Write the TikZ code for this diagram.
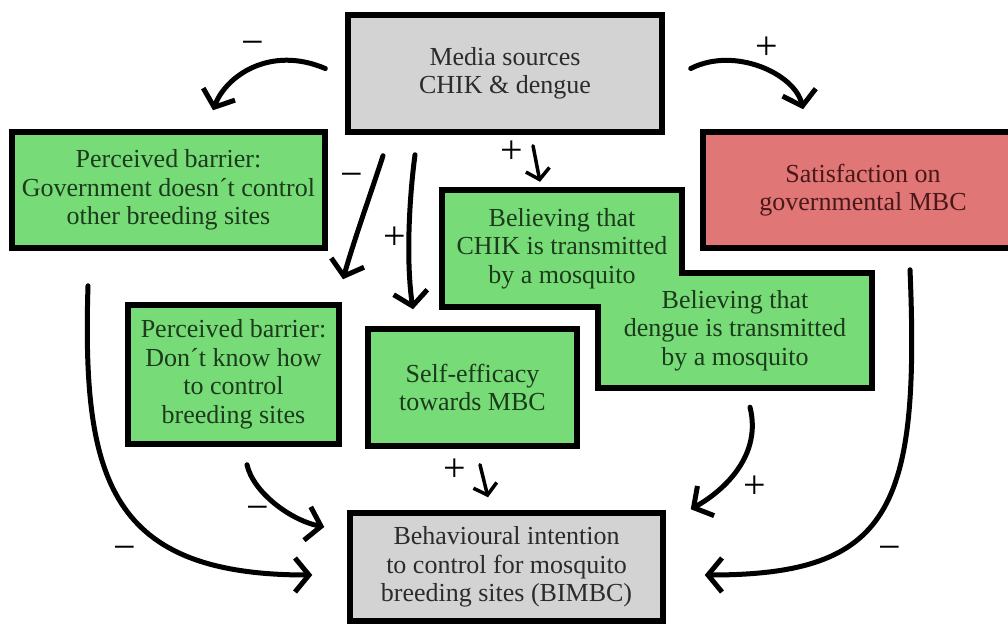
\documentclass[tikz,border=0pt]{standalone}
\usepackage{fontspec}
\setmainfont{Liberation Serif}
\usetikzlibrary{arrows.meta,calc,backgrounds}

\definecolor{boxgreen}{HTML}{77DC77}
\definecolor{boxred}{HTML}{E07676}
\definecolor{boxgrey}{HTML}{D3D3D3}
\definecolor{txtgreen}{HTML}{1C3A1C}
\definecolor{txtred}{HTML}{4A1818}
\definecolor{txtgrey}{HTML}{2B2B2B}

\tikzset{
  box/.style={draw=black, line width=5.5pt, align=center, inner sep=0pt,
    font=\fontsize{26}{28.5}\selectfont},
  greenbox/.style={box, fill=boxgreen, text=txtgreen},
  redbox/.style={box, fill=boxred, text=txtred},
  greybox/.style={box, fill=boxgrey, text=txtgrey},
  plaintext/.style={align=center, inner sep=0pt, text=txtgreen,
    font=\fontsize{26}{28.5}\selectfont},
  link/.style={line width=5pt, line cap=round,
    -{Straight Barb[length=14pt,width=34pt,line width=5pt]}},
  shortlink/.style={line width=3.5pt, line cap=round,
    -{Straight Barb[length=10pt,width=24pt,line width=3.5pt]}},
  sign/.style={font=\fontsize{40}{40}\selectfont, inner sep=0pt},
}

\begin{document}
\begin{tikzpicture}[x=1pt, y=-1pt]
\useasboundingbox (0,0) rectangle (1008,626);

% boxes
\node[greybox, minimum width=314pt, minimum height=117pt] (media) at (505,73.5)
  {Media sources\\CHIK \& dengue};
\node[greenbox, minimum width=313pt, minimum height=116pt] (gov) at (168.5,190)
  {Perceived barrier:\\Government doesn´t control\\other breeding sites};
\node[redbox, minimum width=320pt, minimum height=116pt] (sat) at (863,190)
  {Satisfaction on\\governmental MBC};
\node[greenbox, minimum width=211pt, minimum height=139pt] (knowhow) at (233.5,374.5)
  {Perceived barrier:\\Don´t know how\\to control\\breeding sites};
\node[greenbox, minimum width=209pt, minimum height=117pt] (self) at (472.5,387.5)
  {Self-efficacy\\towards MBC};
\node[greybox, minimum width=313pt, minimum height=108pt] (bimbc) at (506.5,567)
  {Behavioural intention\\to control for mosquito\\breeding sites (BIMBC)};

% the two overlapping belief boxes share one outline
\node[plaintext, minimum width=240pt, minimum height=117pt] (chik) at (562,248.5)
  {Believing that\\CHIK is transmitted\\by a mosquito};
\node[plaintext, minimum width=274pt, minimum height=115pt] (dengue) at (735,330.5)
  {Believing that\\dengue is transmitted\\by a mosquito};
\begin{scope}[on background layer]
  \fill[white] (0,0) rectangle (1008,626);
  \draw[line width=5.5pt, fill=boxgreen, line join=miter]
    (chik.north west) -- (chik.north east) -- (chik.north east |- dengue.north)
    -- (dengue.north east) -- (dengue.south east) -- (dengue.south west)
    -- (dengue.south west |- chik.south) -- (chik.south west) -- cycle;
\end{scope}

% influences from the media
\draw[link] ($(media.west)+(-20,-5)$) .. controls (270,45) and (226,76) .. ($(gov.north)+(44.5,-19)$);
\node[sign] (s1) at (253,48) {−};

\draw[link] ($(media.south)+(-122,21)$) .. controls (372,190) and (354,240) .. ($(knowhow.north)+(109.5,-23)$);
\node[sign] (s2) at (352,180) {−};

\draw[link] ($(media.south)+(-90,20)$) .. controls (409,200) and (406,262) .. ($(self.north)+(-59.5,-17)$);
\node[sign] (s3) at (395,238) {+};

\draw[shortlink] ($(media.south)+(28,11)$) -- ($(chik.north)+(-22,-8)$);
\node[sign] (s4) at (512,152) {+};

\draw[link] ($(media.east)+(26,-5)$) .. controls (735,46) and (795,74) .. ($(sat.north)+(-60,-20)$);
\node[sign] (s5) at (767,48) {+};

% influences on the behavioural intention
\draw[link] ($(gov.south)+(-80.5,35)$) .. controls (82,480) and (110,575) .. ($(bimbc.west)+(-35,8)$);
\node[sign] (s6) at (125,553) {−};

\draw[link] ($(knowhow.south)+(13.5,18)$) .. controls (253,492) and (290,520) .. ($(bimbc.west)+(-23,-40)$);
\node[sign] (s7) at (258,513) {−};

\draw[shortlink] ($(self.south)+(7.5,16)$) -- ($(bimbc.north)+(-18.5,-13)$);
\node[sign] (s8) at (455,470) {+};

\draw[link] ($(dengue.south)+(15,19)$) .. controls (762,455) and (725,490) .. ($(bimbc.north east)+(25,-1)$);
\node[sign] (s9) at (755,487) {+};

\draw[link] ($(sat.south)+(47,19)$) .. controls (920,510) and (890,575) .. ($(bimbc.east)+(39,8)$);
\node[sign] (s10) at (890,553) {−};
\end{tikzpicture}
\end{document}
